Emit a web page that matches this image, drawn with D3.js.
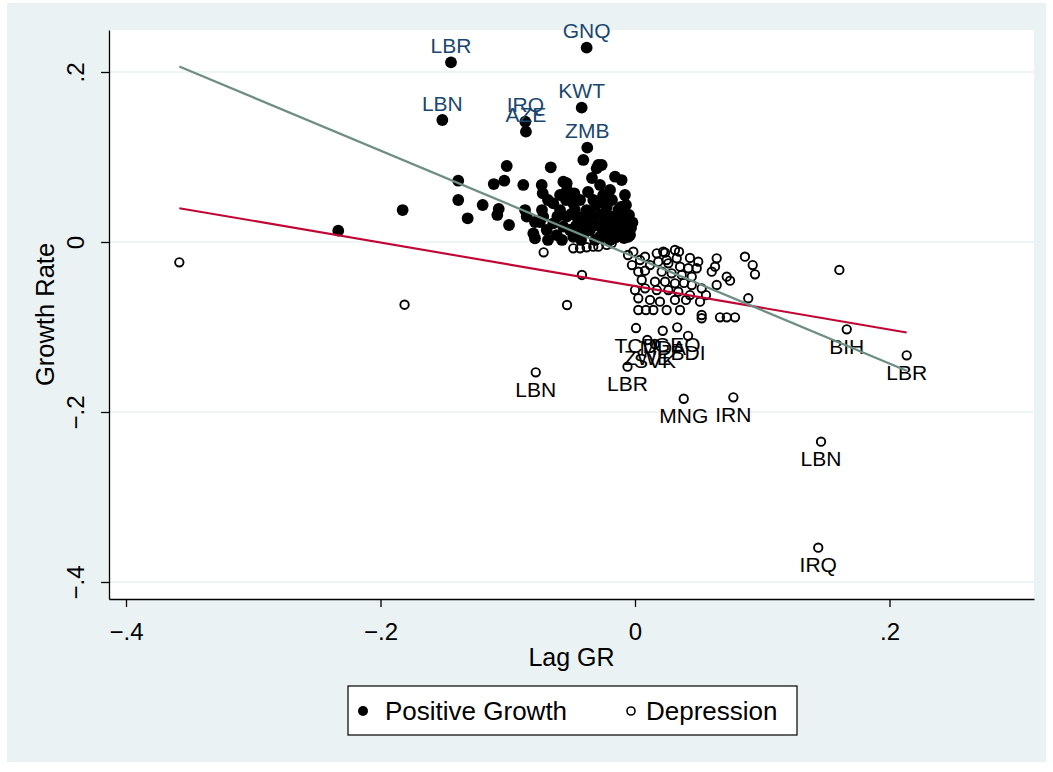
<!DOCTYPE html>
<html><head><meta charset="utf-8">
<script src="https://cdn.jsdelivr.net/npm/d3@7/dist/d3.min.js"></script>
<style>
body{margin:0;background:#fff;}
text{font-family:"Liberation Sans",Arial,Helvetica,sans-serif;}
</style>
</head><body>
<svg id="chart" width="1053" height="772"></svg>
<script>
// ---------- DATA ----------
const xTicks = [-0.4, -0.2, 0, 0.2];
const yTicks = [0.2, 0, -0.2, -0.4];
const xTitle = "Lag GR";
const yTitle = "Growth Rate";
const seriesNames = ["Positive Growth", "Depression"];

// Positive growth (filled)
const posX = [-0.1446,-0.0380,-0.1514,-0.0862,-0.0857,-0.0419,-0.0375,
 -0.2332,-0.1826,-0.1389,-0.1389,-0.1315,-0.1197,-0.1110,-0.1027,-0.1008,-0.1071,
 -0.1082,-0.0990,-0.0878,-0.0864,-0.0851,-0.0662,-0.0733,-0.0725,-0.0731,-0.0799,
 -0.0786,-0.0563,-0.0537,-0.0477,-0.0406,-0.0288,-0.0301,-0.0157,-0.0105,-0.0196,
 -0.0222,-0.0328,-0.0131,-0.0065,-0.0053,-0.0642,-0.0589,-0.0537,-0.0642,-0.0694,
 -0.0615,-0.0485,-0.0406,-0.0380,-0.0328,-0.0275,-0.0236,-0.0171,-0.0118,-0.0092,
 -0.0144,-0.0275,-0.0354,-0.0432,-0.0485,-0.0721,-0.0563,-0.0511,-0.0458,-0.0171,
 -0.0210,-0.0144,-0.0262,-0.0406,-0.0047,-0.0031,-0.0086,-0.0196,-0.0314,-0.0589,
 -0.0354,-0.0275,-0.0534,-0.0684,-0.0251,-0.0181,-0.0393,-0.0464,-0.0306,-0.0110,
 -0.0079,-0.0236,-0.0747,-0.0786,-0.0684,-0.0542,-0.0472,-0.0369,-0.0314,-0.0228,
 -0.0134,-0.0039,-0.0071,-0.0424,-0.0574,-0.0275,-0.0338,-0.0079,
 -0.0500,-0.0440,-0.0160,-0.0020,-0.0610,-0.0250];
const posY = [0.2114,0.2286,0.1435,0.1415,0.1298,0.1580,0.1110,
 0.0133,0.0376,0.0721,0.0494,0.0279,0.0435,0.0682,0.0721,0.0894,0.0388,
 0.0318,0.0200,0.0671,0.0376,0.0298,0.0879,0.0671,0.0573,0.0376,0.0102,
 0.0044,0.0709,0.0691,0.0573,0.0965,0.0906,0.0867,0.0768,0.0729,0.0612,
 0.0415,0.0494,0.0376,0.0200,0.0062,0.0455,0.0376,0.0298,0.0220,0.0141,
 0.0082,0.0062,0.0220,0.0376,0.0259,0.0180,0.0102,0.0141,0.0259,0.0141,
 0.0062,0.0062,0.0141,0.0494,0.0455,0.0298,0.0180,0.0141,0.0298,0.0298,
 0.0220,0.0200,0.0906,0.0298,0.0318,0.0165,0.0047,0.0024,0.0024,0.0553,
 0.0353,0.0318,0.0612,0.0494,0.0494,0.0494,0.0118,0.0188,0.0435,0.0412,
 0.0329,0.0271,0.0235,0.0235,0.0024,0.0494,0.0376,0.0588,0.0200,0.0353,
 0.0141,0.0082,0.0435,0.0024,0.0024,0.0671,0.0753,0.0553,
 0.0330,0.0080,0.0050,0.0230,0.0300,0.0550];
const posLabel = ["LBR","GNQ","LBN","IRQ","AZE","KWT","ZMB"];

// Depression (hollow)
const depX = [-0.0780,0.2135,0.1664,0.1462,0.1440,0.0383,0.0773,-0.0059,
 0.0008,0.0097,0.0157,0.0218,0.0332,0.0417,
 -0.0288,0.0026,0.0079,0.0171,0.0236,0.0314,0.0328,0.0183,0.0262,0.0354,
 0.0419,0.0118,0.0210,0.0288,0.0367,0.0446,0.0053,0.0157,0.0236,0.0314,
 0.0079,0.0171,0.0262,0.0340,0.0026,0.0118,0.0196,0.0314,0.0026,0.0144,
 0.0249,0.0497,0.0485,0.0642,0.0629,0.0603,0.0721,0.0747,0.0642,0.0524,
 0.0511,0.0524,0.0524,0.0668,0.0721,0.0786,0.0864,0.0925,0.0943,0.0890,
 0.1606,-0.3581,-0.1811,-0.0718,-0.0534,-0.0417,-0.0485,-0.0432,-0.0380,-0.0328,
 -0.0222,-0.0183,-0.0013,0.0079,0.0222,0.0249,-0.0055,0.0000,0.0346,0.0446,
 0.0432,0.0385,0.0086,0.0354,0.0432,-0.0024,0.0039,0.0401,0.0558];
const depY = [-0.1533,-0.1333,-0.1027,-0.2349,-0.3596,-0.1844,-0.1827,-0.1467,
 -0.1012,-0.1153,-0.1200,-0.1044,-0.1004,-0.1104,
 -0.0055,-0.0349,-0.0338,-0.0133,-0.0126,-0.0094,-0.0192,-0.0232,-0.0251,-0.0290,
 -0.0309,-0.0271,-0.0349,-0.0368,-0.0388,-0.0408,-0.0447,-0.0467,-0.0467,-0.0486,
 -0.0545,-0.0565,-0.0565,-0.0585,-0.0662,-0.0682,-0.0702,-0.0682,-0.0800,-0.0800,
 -0.0800,-0.0232,-0.0309,-0.0192,-0.0290,-0.0349,-0.0408,-0.0455,-0.0506,-0.0545,
 -0.0702,-0.0859,-0.0897,-0.0886,-0.0886,-0.0886,-0.0173,-0.0271,-0.0380,-0.0662,
 -0.0329,-0.0239,-0.0738,-0.0121,-0.0741,-0.0388,-0.0074,-0.0074,-0.0062,-0.0055,
 -0.0035,-0.0015,-0.0114,-0.0173,-0.0114,-0.0212,-0.0153,-0.0565,-0.0114,-0.0506,
 -0.0188,-0.0482,-0.0800,-0.0800,-0.0624,-0.0271,-0.0212,-0.0682,-0.0624];
const depLabel = ["LBN","LBR","BIH","LBN","IRQ","MNG","IRN","LBR",
 "TCD","ZWE","SVK","MDA","GEO","BDI"];

// Fitted lines (endpoints)
const fitX = [-0.3581, 0.2135];
const fitRed = [0.0398, -0.1064];
const fitGreen = [0.2065, -0.1515];

// ---------- DRAW ----------
const svg = d3.select("#chart");
const W = 1053, H = 772;
const plot = {left:109, right:1034, top:30, bottom:599};

svg.append("rect").attr("x",0).attr("y",0).attr("width",W).attr("height",H).attr("fill","#ffffff");
svg.append("rect").attr("x",7).attr("y",3).attr("width",1039).attr("height",759).attr("fill","#EAF2F3");
svg.append("rect").attr("x",plot.left).attr("y",plot.top)
  .attr("width",plot.right-plot.left).attr("height",plot.bottom-plot.top).attr("fill","#ffffff");

const x = d3.scaleLinear().domain([-0.41336, 0.31356]).range([plot.left, plot.right]);
const y = d3.scaleLinear().domain([-0.42, 0.24941]).range([plot.bottom, plot.top]);

// gridlines
svg.append("g").selectAll("line").data(yTicks).join("line")
  .attr("x1",plot.left).attr("x2",plot.right)
  .attr("y1",d=>y(d)).attr("y2",d=>y(d))
  .attr("stroke","#EAF2F3").attr("stroke-width",1.6);

const fmt = d => d === 0 ? "0" : (d < 0 ? "\u2212" : "") + String(Math.abs(d)).replace(/^0/, "");

// axes
const gx = svg.append("g").attr("transform",`translate(0,${plot.bottom})`)
  .call(d3.axisBottom(x).tickValues(xTicks).tickFormat(fmt).tickSize(8).tickSizeOuter(0));
gx.select(".domain").attr("stroke","#000").attr("stroke-width",1.3);
gx.selectAll(".tick line").attr("stroke","#000").attr("stroke-width",1.3);
gx.selectAll(".tick text").attr("y",41).attr("dy",0).attr("font-size",24)
  .attr("fill","#000").style("font-family","'Liberation Sans',Arial,sans-serif");

const gy = svg.append("g").attr("transform",`translate(${plot.left},0)`)
  .call(d3.axisLeft(y).tickValues(yTicks).tickFormat(fmt).tickSize(8).tickSizeOuter(0));
gy.select(".domain").attr("stroke","#000").attr("stroke-width",1.3);
gy.selectAll(".tick line").attr("stroke","#000").attr("stroke-width",1.3);
gy.selectAll(".tick text").attr("transform","rotate(-90)").attr("x",0).attr("y",-25.5)
  .attr("dy",0).attr("text-anchor","middle").attr("font-size",24).attr("fill","#000")
  .style("font-family","'Liberation Sans',Arial,sans-serif");

// axis titles
svg.append("text").attr("x",(plot.left+plot.right)/2).attr("y",666)
  .attr("text-anchor","middle").attr("font-size",25).attr("fill","#000").text(xTitle);
svg.append("text").attr("transform",`translate(54,${(plot.top+plot.bottom)/2}) rotate(-90)`)
  .attr("text-anchor","middle").attr("font-size",25.5).attr("fill","#000").text(yTitle);

const pos = posX.map((v,i)=>({x:v, y:posY[i], label:posLabel[i]||""}));
const dep = depX.map((v,i)=>({x:v, y:depY[i], label:depLabel[i]||""}));

// scatter: positive growth
svg.append("g").selectAll("circle").data(pos).join("circle")
  .attr("cx",d=>x(d.x)).attr("cy",d=>y(d.y)).attr("r",5.9).attr("fill","#000");
svg.append("g").selectAll("text").data(pos.filter(d=>d.label)).join("text")
  .attr("x",d=>x(d.x)).attr("y",d=>y(d.y)-9.5).attr("text-anchor","middle")
  .attr("font-size",21).attr("fill","#1A476F").text(d=>d.label);

// scatter: depression
svg.append("g").selectAll("circle").data(dep).join("circle")
  .attr("cx",d=>x(d.x)).attr("cy",d=>y(d.y)).attr("r",4.2)
  .attr("fill","none").attr("stroke","#000").attr("stroke-width",1.9);
svg.append("g").selectAll("text").data(dep.filter(d=>d.label)).join("text")
  .attr("x",d=>x(d.x)).attr("y",d=>y(d.y)+24.5).attr("text-anchor","middle")
  .attr("font-size",21).attr("fill","#000").text(d=>d.label);

// fitted lines
const line = d3.line().x(d=>x(d[0])).y(d=>y(d[1]));
svg.append("path").datum(fitX.map((v,i)=>[v,fitRed[i]])).attr("d",line)
  .attr("fill","none").attr("stroke","#C10534").attr("stroke-width",2.1);
svg.append("path").datum(fitX.map((v,i)=>[v,fitGreen[i]])).attr("d",line)
  .attr("fill","none").attr("stroke","#6E8E84").attr("stroke-width",2.3);

// legend
const lg = svg.append("g");
lg.append("rect").attr("x",348).attr("y",686).attr("width",449).attr("height",49)
  .attr("fill","#fff").attr("stroke","#000").attr("stroke-width",1.2);
lg.append("circle").attr("cx",363).attr("cy",711).attr("r",5).attr("fill","#000");
lg.append("text").attr("x",385).attr("y",720).attr("font-size",26).attr("fill","#000").text(seriesNames[0]);
lg.append("circle").attr("cx",631).attr("cy",711).attr("r",4).attr("fill","none")
  .attr("stroke","#000").attr("stroke-width",1.6);
lg.append("text").attr("x",646).attr("y",720).attr("font-size",26).attr("fill","#000").text(seriesNames[1]);
</script>
</body></html>
